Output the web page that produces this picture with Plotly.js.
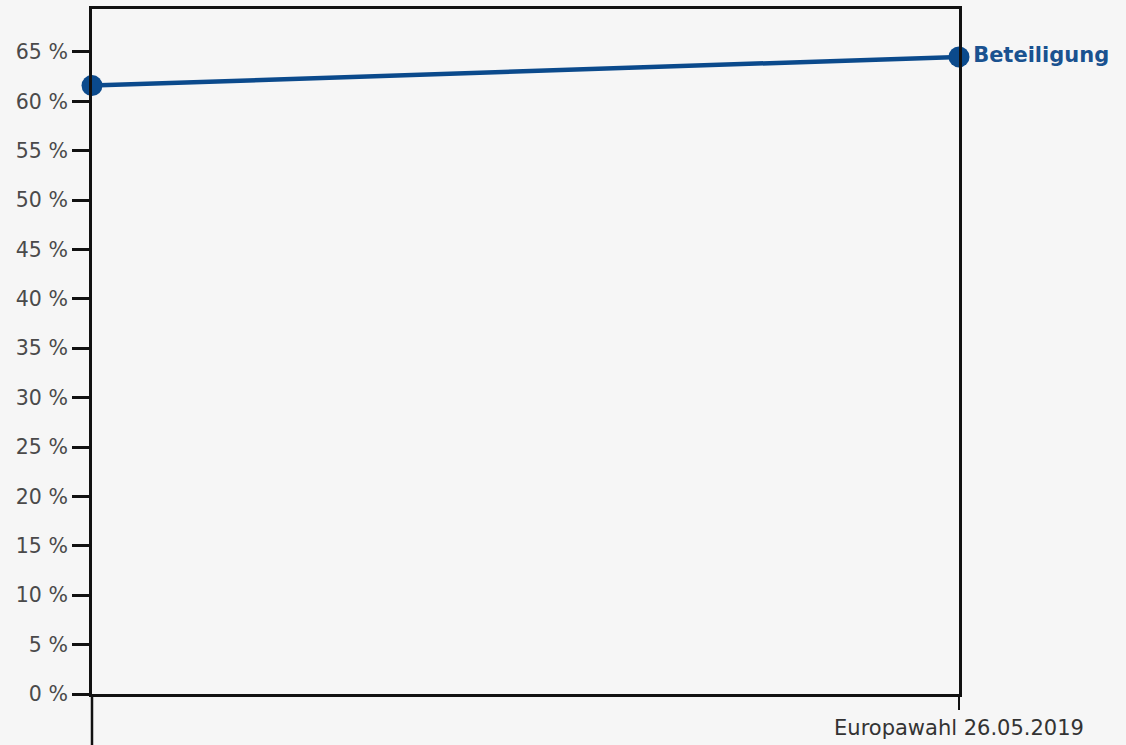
<!DOCTYPE html>
<html>
<head>
<meta charset="utf-8">
<script src="https://cdn.plot.ly/plotly-3.0.1.min.js"></script>
<style>html,body{margin:0;padding:0;background:#f6f6f6;}#chart{width:1126px;height:745px;}</style>
</head>
<body>
<div id="chart"></div>
<script>
const xPositions = [0, 1];
const xTickLabels = ["", "Europawahl 26.05.2019"];
const turnout = [61.6, 64.5];
const seriesName = "Beteiligung";
const yTickVals = [0, 5, 10, 15, 20, 25, 30, 35, 40, 45, 50, 55, 60, 65];
const yTickText = yTickVals.map(v => v + " %");

const blue = "#0b4a8c";
const trace = {
  x: xPositions,
  y: turnout,
  mode: "lines+markers+text",
  line: {color: blue, width: 4.5},
  marker: {color: blue, size: 21},
  text: ["", "<b>" + seriesName + "</b>"],
  textposition: ["middle right", "middle right"],
  textfont: {family: "DejaVu Sans, sans-serif", size: 21, color: "#1a5290"},
  cliponaxis: false,
  hoverinfo: "none"
};

const layout = {
  width: 1126, height: 745,
  paper_bgcolor: "#f6f6f6",
  plot_bgcolor: "#f6f6f6",
  margin: {l: 92, r: 167, t: 9, b: 51},
  showlegend: false,
  font: {family: "DejaVu Sans, sans-serif", color: "#333"},
  xaxis: {
    range: [0, 1],
    tickvals: xPositions,
    ticktext: xTickLabels,
    ticks: "outside", ticklen: 13, tickwidth: 2, tickcolor: "#111",
    showline: true, linecolor: "#111", linewidth: 3, mirror: true,
    showgrid: false, zeroline: false,
    tickfont: {family: "DejaVu Sans, sans-serif", size: 21, color: "#333"}
  },
  yaxis: {
    range: [0, 69.35],
    tickvals: yTickVals,
    ticktext: yTickText,
    ticks: "outside", ticklen: 17, tickwidth: 3, tickcolor: "#111",
    showline: true, linecolor: "#111", linewidth: 3, mirror: true,
    showgrid: false, zeroline: false,
    tickfont: {family: "DejaVu Sans, sans-serif", size: 20.5, color: "#4a4a4a"}
  },
  shapes: [{
    type: "line", xref: "paper", yref: "paper",
    x0: 0, x1: 0, y0: 0, y1: -0.08,
    line: {color: "#111", width: 2.5}
  }]
};

Plotly.newPlot("chart", [trace], layout, {staticPlot: true, displayModeBar: false});
</script>
</body>
</html>
